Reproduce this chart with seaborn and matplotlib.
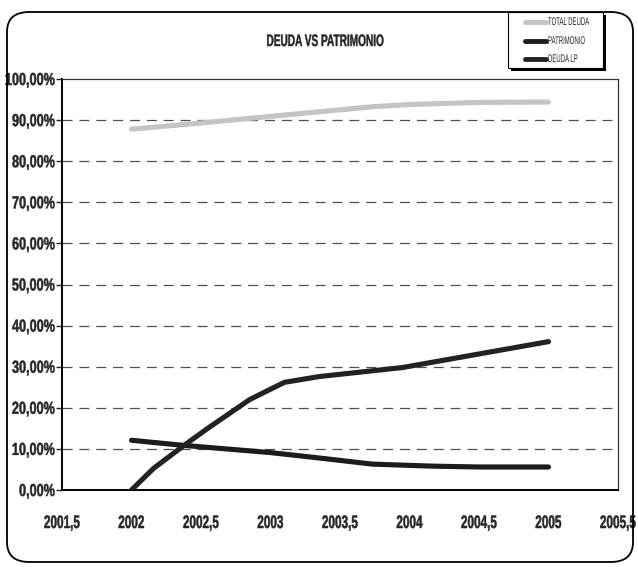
import numpy as np
import pandas as pd
import matplotlib
matplotlib.use("Agg")
import matplotlib.pyplot as plt
from matplotlib.patches import FancyBboxPatch, Rectangle
from matplotlib.patheffects import AbstractPathEffect
from matplotlib.transforms import Affine2D, Bbox
from matplotlib.ticker import FuncFormatter, FixedLocator
import seaborn as sns

# Series values (year, percentage)
total_years = [2002.0, 2002.5, 2003.0, 2003.5, 2003.75, 2004.0, 2004.5, 2005.0]
total_deuda = [87.8, 89.3, 90.9, 92.5, 93.3, 93.8, 94.3, 94.4]

patr_years = [2002.0, 2002.36, 2003.0, 2003.4, 2003.73, 2004.17, 2004.5, 2005.0]
patrimonio = [12.1, 10.9, 9.1, 7.6, 6.3, 5.8, 5.6, 5.6]

lp_years = [2002.0, 2002.16, 2002.38, 2002.54, 2002.85, 2003.1, 2003.35, 2003.95, 2005.0]
deuda_lp = [0.0, 5.3, 10.9, 14.8, 22.0, 26.2, 27.6, 29.8, 36.1]

series_names = ["TOTAL DEUDA", "PATRIMONIO", "DEUDA LP"]
title_text = "DEUDA VS PATRIMONIO"
x_ticks = [2001.5, 2002, 2002.5, 2003, 2003.5, 2004, 2004.5, 2005, 2005.5]
y_ticks = [0, 10, 20, 30, 40, 50, 60, 70, 80, 90, 100]

df = pd.concat([
    pd.DataFrame({"year": total_years, "value": total_deuda, "serie": series_names[0]}),
    pd.DataFrame({"year": patr_years, "value": patrimonio, "serie": series_names[1]}),
    pd.DataFrame({"year": lp_years, "value": deuda_lp, "serie": series_names[2]}),
], ignore_index=True)

sns.set_style("white")
plt.rcParams["font.family"] = ["Liberation Sans", "DejaVu Sans"]


class Squeeze(AbstractPathEffect):
    """Narrow the glyphs horizontally (keeping the aligned edge in place),
    optionally thickening them with an outline of the text colour."""

    def __init__(self, sx, frac, stroke=0.0):
        super().__init__()
        self.sx = sx
        self.frac = frac
        self.stroke = stroke

    def draw_path(self, renderer, gc, tpath, affine, rgbFace=None):
        w = tpath.get_extents().x1
        t = (Affine2D().translate(-w * self.frac, 0).scale(self.sx, 1)
             .translate(w * self.frac, 0) + affine)
        gc0 = renderer.new_gc()
        gc0.copy_properties(gc)
        if self.stroke > 0:
            gc0.set_linewidth(self.stroke)
            gc0.set_joinstyle("round")
        renderer.draw_path(gc0, tpath, t, rgbFace)
        gc0.restore()


def squeeze_text(text, sx, frac, stroke=0.0):
    text.set_path_effects([Squeeze(sx, frac, stroke)])
    base = text.get_window_extent

    def extent(renderer=None, dpi=None):
        bb = base(renderer, dpi)
        w = bb.width
        return Bbox.from_bounds(bb.x0 + (1 - sx) * w * frac, bb.y0, w * sx, bb.height)

    text.get_window_extent = extent


fig = plt.figure(figsize=(6.38, 5.67), dpi=100)
W, H = 638, 567
px = lambda x, y: (x / W, 1 - y / H)
ax = fig.add_axes([62 / W, 1 - 490 / H, (618 - 62) / W, (490 - 79) / H])

# rounded outer frame
frame = FancyBboxPatch(px(7, 562), (633 - 7) / W, (562 - 12) / H,
                       boxstyle="round,pad=0,rounding_size=0.035",
                       transform=fig.transFigure, fill=False,
                       edgecolor="black", linewidth=1.3, zorder=0)
fig.patches.append(frame)

palette = {"TOTAL DEUDA": "#c4c4c4", "PATRIMONIO": "#1c1c1c", "DEUDA LP": "#222222"}
sns.lineplot(data=df, x="year", y="value", hue="serie", palette=palette,
             linewidth=3.7, sort=False, estimator=None, ax=ax, legend=False,
             solid_capstyle="round", zorder=3)

ax.set_xlim(x_ticks[0], x_ticks[-1])
ax.set_ylim(y_ticks[0], y_ticks[-1])
ax.xaxis.set_major_locator(FixedLocator(x_ticks))
ax.yaxis.set_major_locator(FixedLocator(y_ticks))
ax.yaxis.set_major_formatter(FuncFormatter(lambda v, p: f"{v:.2f}%".replace(".", ",")))
ax.xaxis.set_major_formatter(FuncFormatter(
    lambda v, p: (f"{v:.1f}".replace(".", ",") if v % 1 else f"{int(v)}")))
for y in y_ticks[1:-1]:
    ax.axhline(y, color="#505050", linestyle=(0, (8, 5.5)), linewidth=0.9, zorder=1)

ax.tick_params(axis="y", which="major", direction="out", length=4, width=1,
               pad=1, left=True, labelsize=12.5)
ax.tick_params(axis="x", which="major", length=0, pad=18, labelsize=13)
for lab in ax.get_xticklabels() + ax.get_yticklabels():
    lab.set_fontweight("bold")
ax.set_xlabel("")
ax.set_ylabel("")

for side in ["left", "bottom"]:
    ax.spines[side].set_linewidth(1.4)
    ax.spines[side].set_color("black")
for side in ["top", "right"]:
    ax.spines[side].set_linewidth(0.9)
    ax.spines[side].set_color("#333333")

title = fig.text(*px(325, 41.5), title_text, ha="center", va="center",
                 fontsize=12, fontweight="bold")

# legend box with drop shadow
lx0, ly0, lx1, ly1 = 508, 12, 603, 68
fig.patches.append(Rectangle(px(lx0 + 3, ly1 + 3), (lx1 - lx0) / W, (ly1 - ly0) / H,
                             transform=fig.transFigure, facecolor="black",
                             edgecolor="none", zorder=5))
fig.patches.append(Rectangle(px(lx0, ly1), (lx1 - lx0) / W, (ly1 - ly0) / H,
                             transform=fig.transFigure, facecolor="white",
                             edgecolor="black", linewidth=0.8, zorder=6))
leg_rows = [22, 41, 59]
leg_texts = []
for name, ry in zip(series_names, leg_rows):
    fig.add_artist(plt.Line2D([525 / W, 546 / W], [1 - ry / H, 1 - ry / H],
                              transform=fig.transFigure, color=palette[name],
                              linewidth=3.5, solid_capstyle="round", zorder=7))
    leg_texts.append(fig.text(*px(548, ry), name, ha="left", va="center",
                              fontsize=8, zorder=7))

fig.canvas.draw()
r = fig.canvas.get_renderer()

# narrow lettering
xt = ax.get_xticklabels()
yt = ax.get_yticklabels()
sx_x = 36 / xt[0].get_window_extent(r).width
for t in xt:
    squeeze_text(t, sx_x, 0.5, stroke=0.35)
sx_y = 50 / yt[-1].get_window_extent(r).width
for t in yt:
    squeeze_text(t, sx_y, 1.0, stroke=0.35)
squeeze_text(title, 117 / title.get_window_extent(r).width, 0.5, stroke=0.3)
sx_l = 41 / leg_texts[0].get_window_extent(r).width
for t in leg_texts:
    squeeze_text(t, sx_l, 0.0)

fig.savefig("out.png", dpi=100)
